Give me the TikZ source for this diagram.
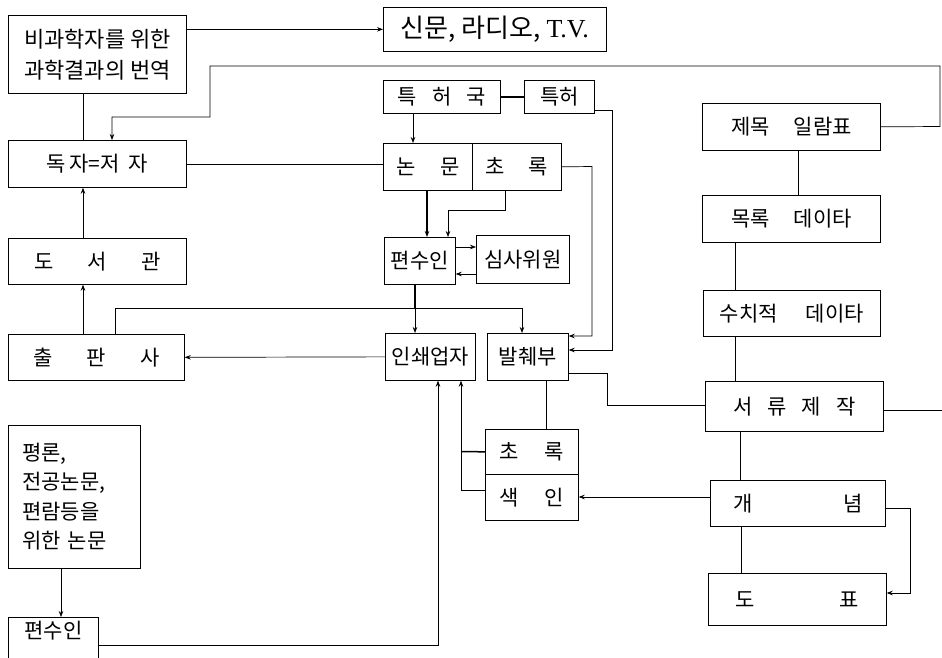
\documentclass[tikz,border=0pt]{standalone}
\usepackage{fontspec}
\setmainfont{Noto Sans CJK KR}
\newfontfamily\latserif{Liberation Serif}
\usetikzlibrary{arrows.meta}
\tikzset{
  box/.style={draw, line width=0.7pt, anchor=north west, inner sep=0pt, font=\fontsize{21}{31}\selectfont},
  arr/.style={-{Stealth[length=6pt,width=4.5pt]}},
  thk/.style={line width=1.5pt},
}
\newcommand{\hs}[1]{\hspace{#1pt}}
\begin{document}
\begin{tikzpicture}[x=1pt,y=-1pt, line width=0.7pt]
\fill[white] (0,0) rectangle (942,658);
\useasboundingbox (0,0) rectangle (942,658);

% nodes
\node[box, minimum width=178pt, minimum height=78pt, align=left, font=\fontsize{22}{31}\selectfont] (trans) at (8,15) {비과학자를 위한\\과학결과의 번역};
\node[box, minimum width=223pt, minimum height=44pt, font=\fontsize{26}{30}\selectfont] (media) at (383,7) {신문, 라디오, {\latserif T.V.}};
\node[box, minimum width=178pt, minimum height=47pt] (reader) at (8,140) {독\hs{3}자=저\hs{9}자};
\node[box, minimum width=178pt, minimum height=46pt] (lib) at (8,238) {도\hs{34}서\hs{34}관};
\node[box, minimum width=176pt, minimum height=46pt] (pub) at (8,334) {출\hs{34}판\hs{34}사};
\node[box, minimum width=117pt, minimum height=33pt] (patoff) at (383,80) {특\hs{15}허\hs{15}국};
\node[box, minimum width=70pt, minimum height=33pt] (patent) at (524,80) {특허};
\node[box, minimum width=89pt, minimum height=47pt] (paper) at (383,143) {논\hs{25}문};
\node[box, minimum width=89pt, minimum height=47pt] (abs) at (472,143) {초\hs{24}록};
\node[box, minimum width=71pt, minimum height=47pt] (editor) at (384,237) {편수인};
\node[box, minimum width=93pt, minimum height=48pt] (referee) at (476,235) {심사위원};
\node[box, minimum width=90pt, minimum height=47pt] (printer) at (385,333) {인쇄업자};
\node[box, minimum width=81pt, minimum height=47pt] (extract) at (487,333) {발췌부};
\node[box, minimum width=93pt, minimum height=45pt] (abs2) at (485,429) {초\hs{26}록};
\node[box, minimum width=93pt, minimum height=46pt] (index) at (485,474) {색\hs{26}인};
\node[box, minimum width=178pt, minimum height=47pt] (title) at (702,103) {제목\hs{24}일람표};
\node[box, minimum width=178pt, minimum height=47pt] (catalog) at (702,195) {목록\hs{24}데이타};
\node[box, minimum width=177pt, minimum height=46pt] (numeric) at (703,290) {수치적\hs{28}데이타};
\node[box, minimum width=178pt, minimum height=50pt] (docmake) at (705,381) {서\hs{15}류\hs{15}제\hs{15}작};
\node[box, minimum width=175pt, minimum height=46pt] (concept) at (710,480) {개\hs{91}념};
\node[box, minimum width=178pt, minimum height=52pt] (chart) at (708,573) {도\hs{85}표};
\node[box, minimum width=132pt, minimum height=143pt, align=left, text width=104pt, font=\fontsize{21}{29.5}\selectfont] (review) at (8,425) {평론,\\전공논문,\\편람등을\\위한 논문};
\node[box, minimum width=90pt, text height=15pt, text depth=40pt, inner ysep=6pt] (editor2) at (8,617) {편수인};

% connectors
\draw[arr] (trans.east |- media.west) -- (media.west);
\draw[arr] (title.east) -- (940,126.5) -- (940,66) -- (210,66) -- (210,117) -- (112,117) -- (reader.north -| 112,0);
\draw (trans.south -| 83,0) -- (reader.north -| 83,0);
\draw[arr] (lib.north -| 83,0) -- (reader.south -| 83,0);
\draw[arr] (pub.north -| 83,0) -- (lib.south -| 83,0);
\draw (reader.east |- 0,164) -- (paper.west |- 0,164);
\draw[arr] (patoff.south -| 413,0) -- (paper.north -| 413,0);
\draw[thk] (patoff.east) -- (patent.west);
\draw[arr] (patent.east |- 0,110) -- (612,110) -- (612,350) -- (extract.east |- 0,350);
\draw[arr] (abs.east) -- (592,166.5) -- (592,336) -- (extract.east |- 0,336);
\draw[arr, thk] (paper.south -| 427,0) -- (editor.north -| 427,0);
\draw[arr] (abs.south -| 505,0) -- (505,210) -- (448,210) -- (editor.north -| 448,0);
\draw[arr] (editor.east |- 0,247) -- (referee.west |- 0,247);
\draw[arr] (referee.west |- 0,274) -- (editor.east |- 0,274);
\coordinate (split) at (415,308);
\draw[thk] (editor.south -| split) -- (split);
\draw[arr] (split) -- (printer.north -| split);
\draw (pub.north -| 115,0) -- (115,308) -- (522,308);
\draw[arr] (522,308) -- (extract.north -| 522,0);
\draw[arr] (printer.west) -- (pub.east);
\draw (extract.east |- 0,373) -- (607,373) -- (607,405) -- (docmake.west |- 0,405);
\draw (title.south -| 798,0) -- (catalog.north -| 798,0);
\draw (catalog.south -| 735,0) -- (numeric.north -| 735,0);
\draw (numeric.south -| 735,0) -- (docmake.north -| 735,0);
\draw (docmake.south -| 740,0) -- (concept.north -| 740,0);
\draw (concept.south -| 741,0) -- (chart.north -| 741,0);
\coordinate (rend) at (942,410);
\draw (docmake.east |- rend) -- (rend);
\draw[arr] (concept.west |- 0,497) -- (index.east |- 0,497);
\draw[arr] (concept.east |- 0,508) -- (910,508) -- (910,593) -- (chart.east |- 0,593);
\draw (extract.south -| 546,0) -- (abs2.north -| 546,0);
\draw[thk] (abs2.west) -- (461,451.5);
\draw[arr] (index.west |- 0,490) -- (461,490) -- (printer.south -| 461,0);
\draw[arr] (review.south -| 61,0) -- (editor2.north -| 61,0);
\draw[arr] (editor2.east |- 0,645) -- (438,645) -- (printer.south -| 438,0);
\end{tikzpicture}
\end{document}
